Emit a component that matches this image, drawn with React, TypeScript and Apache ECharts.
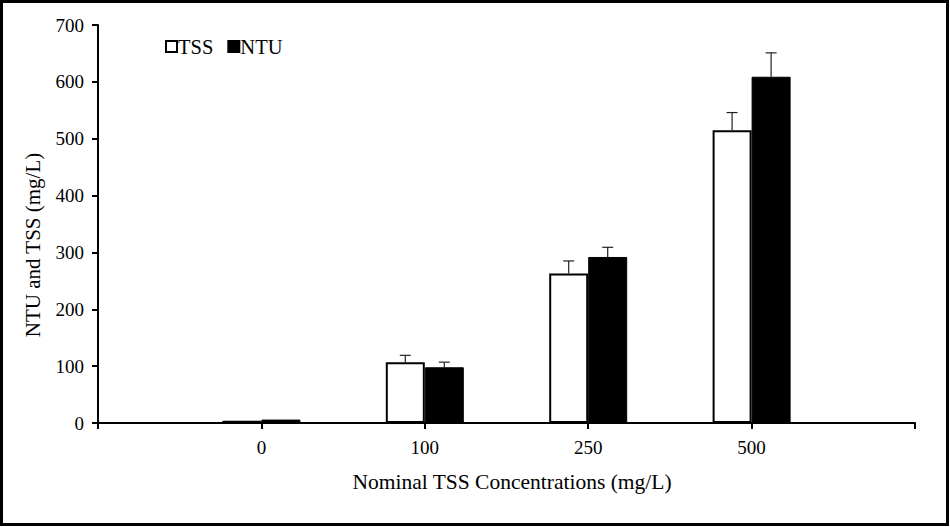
import React, { useEffect, useRef } from "react";
import * as echarts from "echarts";

const categories = ["", "0", "100", "250", "500", ""];
const tssValues = [null, 4, 107, 263, 515, null];
const ntuValues = [null, 6, 98, 292, 609, null];
const tssErrors = [null, 0, 12, 22, 31, null];
const ntuErrors = [null, 0, 9, 17, 42, null];
const yTicks = { min: 0, max: 700, interval: 100 };
const xTitle = "Nominal TSS Concentrations (mg/L)";
const yTitle = "NTU and TSS (mg/L)";

const FONT = "Liberation Serif";
const FS = 19;
const NAME_FS = 21.5;
const LEG_FS = 20.5;
const BAR_W = 39;

function errorSeries(name: string, values: (number | null)[], errs: (number | null)[], offset: number) {
  const data = values.map((v, i) => (v == null || errs[i] == null ? null : [i, v, v + (errs[i] as number)]));
  return {
    type: "custom",
    name: name + "_err",
    z: 10,
    silent: true,
    renderItem: (params: any, api: any) => {
      const idx = api.value(0);
      const base = api.coord([idx, api.value(1)]);
      const top = api.coord([idx, api.value(2)]);
      const x = base[0] + offset;
      const cap = 5.5;
      return {
        type: "group",
        children: [
          { type: "line", shape: { x1: x, y1: base[1], x2: x, y2: top[1] }, style: { stroke: "#222", lineWidth: 1.2 } },
          { type: "line", shape: { x1: x - cap, y1: top[1], x2: x + cap, y2: top[1] }, style: { stroke: "#222", lineWidth: 1.2 } },
        ],
      };
    },
    data: data.filter((d) => d !== null && d[2] > d[1]),
  };
}

export default function App() {
  const ref = useRef<HTMLDivElement>(null);
  useEffect(() => {
    if (!ref.current) return;
    const chart = echarts.init(ref.current, null, { renderer: "svg" });
    chart.setOption({
      animation: false,
      backgroundColor: "#fff",
      textStyle: { fontFamily: FONT, color: "#000" },
      grid: { left: 98, right: 35, top: 25, bottom: 104 },
      legend: {
        data: ["TSS", "NTU"],
        left: 160,
        top: 31,
        itemWidth: 11,
        itemHeight: 11,
        itemGap: 14,
        icon: "rect",
        textStyle: { fontFamily: FONT, fontSize: LEG_FS, color: "#000", padding: [0, 0, 0, -4] },
      },
      xAxis: {
        type: "category",
        data: categories,
        boundaryGap: false,
        axisLine: { lineStyle: { color: "#000", width: 2 } },
        axisTick: { show: true, length: 6, inside: false, lineStyle: { color: "#000", width: 2 } },
        axisLabel: { fontFamily: FONT, fontSize: FS, color: "#000", margin: 15, interval: 0 },
        splitLine: { show: false },
      },
      yAxis: {
        type: "value",
        min: yTicks.min,
        max: yTicks.max,
        interval: yTicks.interval,
        axisLine: { show: true, lineStyle: { color: "#000", width: 2 } },
        axisTick: { show: true, length: 6, lineStyle: { color: "#000", width: 2 } },
        axisLabel: { fontFamily: FONT, fontSize: FS, color: "#000", margin: 14 },
        splitLine: { show: false },
      },
      series: [
        {
          name: "TSS",
          type: "bar",
          data: tssValues,
          barWidth: BAR_W,
          barGap: "0%",
          itemStyle: { color: "#fff", borderColor: "#000", borderWidth: 2 },
        },
        {
          name: "NTU",
          type: "bar",
          data: ntuValues,
          barWidth: BAR_W,
          barGap: "0%",
          itemStyle: { color: "#000", borderColor: "#000", borderWidth: 1 },
        },
        errorSeries("TSS", tssValues, tssErrors, -BAR_W / 2),
        errorSeries("NTU", ntuValues, ntuErrors, BAR_W / 2),
      ],
      graphic: [
        {
          type: "rect",
          shape: { x: 1.5, y: 1.5, width: 946, height: 523 },
          style: { fill: "none", stroke: "#000", lineWidth: 3 },
          silent: true,
          z: 100,
        },
        {
          type: "text",
          x: 512,
          y: 482,
          style: { text: xTitle, fontFamily: FONT, fontSize: NAME_FS, fill: "#000", align: "center", verticalAlign: "middle" },
          silent: true,
        },
        {
          type: "text",
          x: 33,
          y: 245,
          rotation: Math.PI / 2,
          style: { text: yTitle, fontFamily: FONT, fontSize: 21, fill: "#000", align: "center", verticalAlign: "middle" },
          silent: true,
        },
      ],
    });
    return () => chart.dispose();
  }, []);
  return <div ref={ref} style={{ position: "fixed", left: 0, top: 0, width: 950, height: 527 }} />;
}
